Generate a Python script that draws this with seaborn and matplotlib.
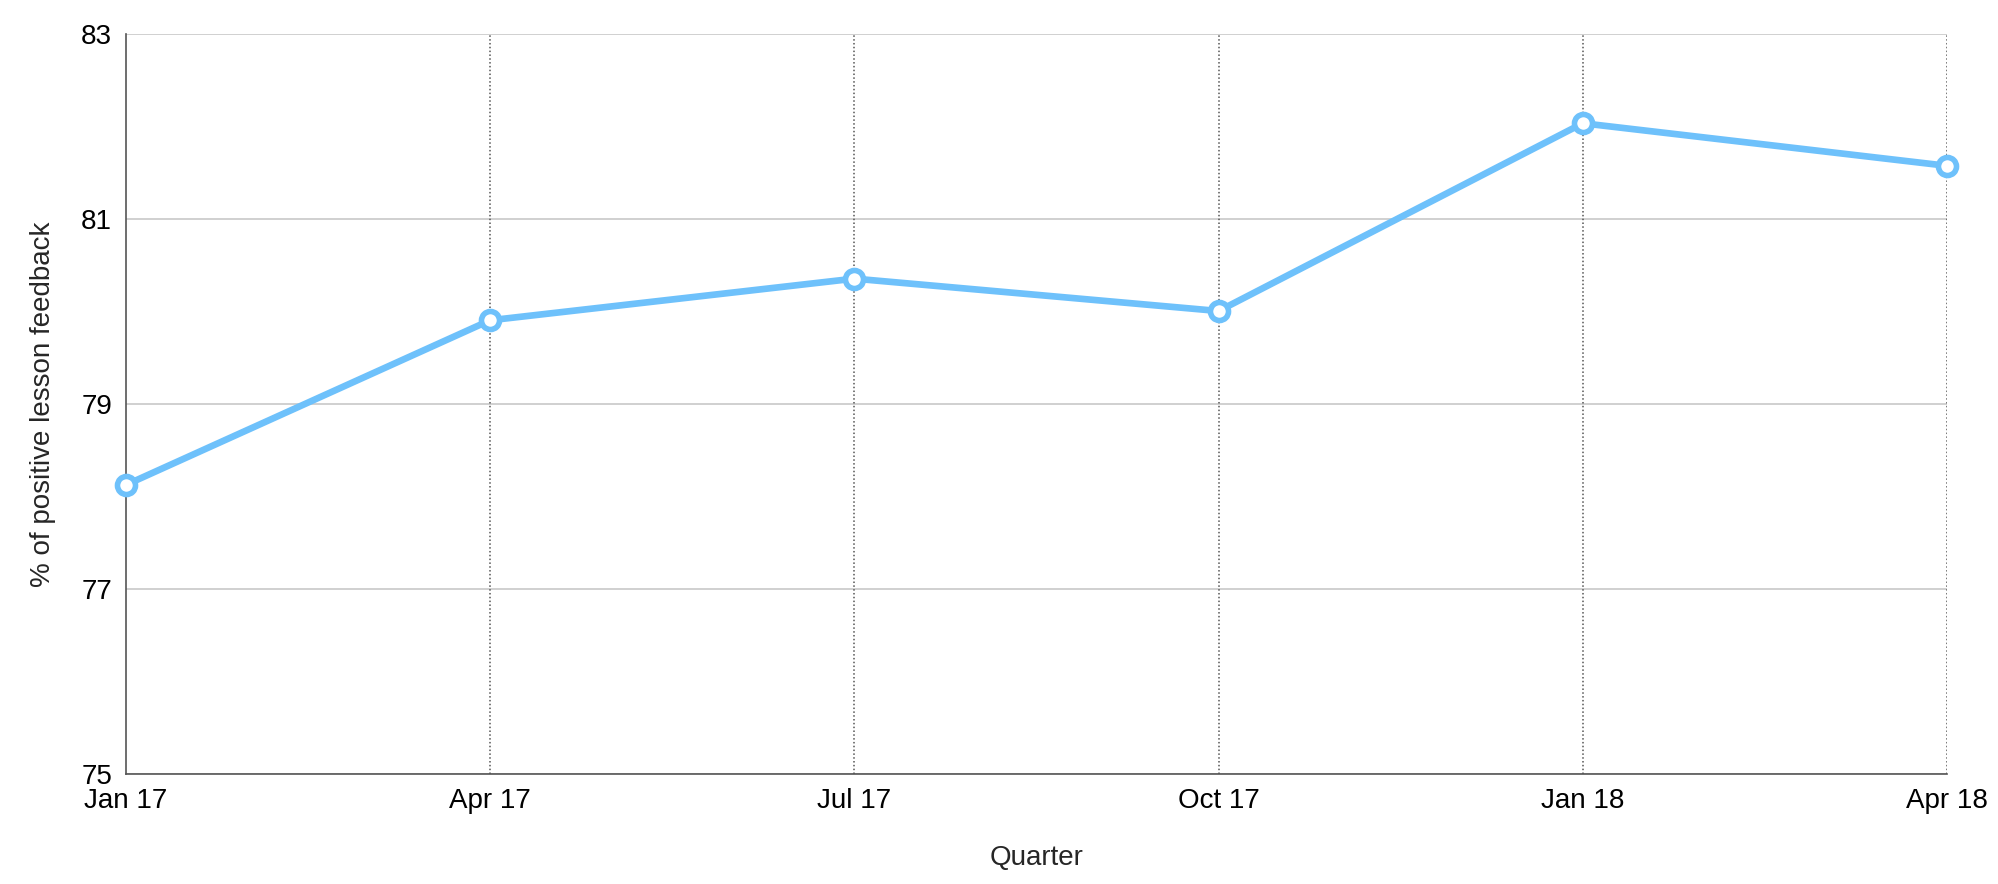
import pandas as pd
import seaborn as sns
import matplotlib.pyplot as plt

quarters = ["Jan 17", "Apr 17", "Jul 17", "Oct 17", "Jan 18", "Apr 18"]
positive = [78.13, 79.91, 80.36, 80.01, 82.04, 81.58]

df = pd.DataFrame({"Quarter": quarters, "pct": positive})

sns.set_style("white")
plt.rcParams["font.family"] = ["Liberation Sans", "DejaVu Sans"]

fig = plt.figure(figsize=(19.99, 8.84), dpi=100)
ax = fig.add_axes([0.063, 0.124, 0.911, 0.837])

sns.lineplot(data=df, x="Quarter", y="pct", ax=ax, sort=False, color="#6EC1FB",
             linewidth=4.8, marker="o", markersize=13, markerfacecolor="white",
             markeredgecolor="#6EC1FB", markeredgewidth=4, zorder=5, clip_on=False)

ax.set_xlim(0, len(quarters) - 1)
ax.set_ylim(75, 83)
ax.set_yticks([75, 77, 79, 81, 83])
ax.yaxis.grid(True, color="#c8c8c8", linewidth=1.2, linestyle="-")
for i in range(1, len(quarters)):
    ax.axvline(i, color="#555555", linewidth=1.1, linestyle=(0, (1, 1.5)), zorder=1)

for s in ["top", "right"]:
    ax.spines[s].set_visible(False)
for s in ["left", "bottom"]:
    ax.spines[s].set_color("#555555")
    ax.spines[s].set_linewidth(1.2)

ax.tick_params(axis="both", labelsize=20, length=0, pad=10, colors="black")
ax.set_xlabel("Quarter", fontsize=20, labelpad=22)
ax.set_ylabel("% of positive lesson feedback", fontsize=20, labelpad=18)

fig.savefig("out.png")
